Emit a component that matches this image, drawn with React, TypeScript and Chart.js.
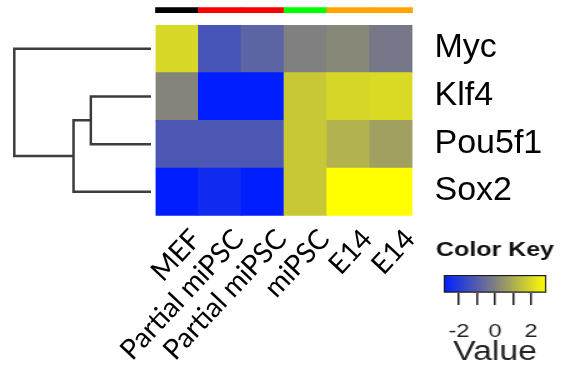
import React, { useEffect, useRef } from 'react';
import { Chart, registerables } from 'chart.js';

Chart.register(...registerables);

// ---------- data ----------
const SAMPLES = ['MEF', 'Partial miPSC', 'Partial miPSC', 'miPSC', 'E14', 'E14'];
const GENES = ['Myc', 'Klf4', 'Pou5f1', 'Sox2'];
const MYC = [1.97, -1.25, -0.8, 0.0, 0.18, -0.22];
const KLF4 = [0.09, -2.85, -2.85, 1.62, 1.93, 2.02];
const POU5F1 = [-1.16, -1.16, -1.16, 1.62, 1.12, 0.72];
const SOX2 = [-2.85, -2.49, -2.85, 1.62, 2.85, 2.85];
const GROUP_COLORS = ['#000000', '#FF0000', '#FF0000', '#00FF00', '#FFA500', '#FFA500'];
// hclust-style merges (negative = leaf, 1-based in GENES order; positive = earlier merge)
const MERGE_LEFT = [-2, 1, -1];
const MERGE_RIGHT = [-3, -4, 2];
const MERGE_HEIGHT = [1.32, 1.7, 3.0];
const KEY_MIN = -2.85;
const KEY_MAX = 2.85;
const KEY_TICKS = [-2, -1, 0, 1, 2];

// ---------- layout / style ----------
const W = 574;
const H = 371;
const HM_LEFT = 155.5;
const HM_RIGHT = 412.5;
const HM_TOP = 25;
const HM_BOTTOM = 215.7;
const DENDRO_W = 160;
const DENDRO_LEAF_PX = 151;
const DENDRO_ROOT_PX = 14.3;
const BAR_TOP_PX = 7.7;
const BAR_BOTTOM_PX = 12.7;
const KEY_W = 110;
const KEY_PAD = 13.9;
const LOW = [0, 30, 255];
const MID = [128, 128, 128];
const HIGH = [255, 255, 0];

const rgb = (c: number[]) => `rgb(${c.map((v) => Math.round(v)).join(',')})`;
const mix = (a: number[], b: number[], t: number) => a.map((v, i) => v + (b[i] - v) * t);
function zColor(z: number) {
  let t = (z - KEY_MIN) / (KEY_MAX - KEY_MIN);
  t = Math.max(0, Math.min(1, t));
  return t < 0.5 ? rgb(mix(LOW, MID, t * 2)) : rgb(mix(MID, HIGH, (t - 0.5) * 2));
}

const hidden = { display: false, offset: false, bounds: 'data', grid: { offset: false } };

export default function App() {
  const mainRef = useRef<HTMLCanvasElement>(null);
  const dendroRef = useRef<HTMLCanvasElement>(null);
  const keyRef = useRef<HTMLCanvasElement>(null);

  useEffect(() => {
    const ROWS = [MYC, KLF4, POU5F1, SOX2];

    // heatmap rows, bottom row first (stacked)
    const heat = GENES.map((g, gi) => ({
      type: 'bar' as const,
      label: g,
      stack: 'hm',
      xAxisID: 'x',
      yAxisID: 'yv',
      data: SAMPLES.map((s, si) => ({ x: s, y: 1, z: ROWS[gi][si] })),
      backgroundColor: (ctx: any) => zColor(ctx.raw ? ctx.raw.z : 0),
      borderWidth: 0,
      barPercentage: 1,
      categoryPercentage: 1,
    })).reverse();

    // group colour bar above heatmap
    const rowPx = (HM_BOTTOM - HM_TOP) / GENES.length;
    const barLo = (HM_BOTTOM - BAR_BOTTOM_PX) / rowPx;
    const barHi = (HM_BOTTOM - BAR_TOP_PX) / rowPx;
    const groupBar = {
      type: 'bar' as const,
      label: 'group',
      stack: 'hm',
      xAxisID: 'x',
      yAxisID: 'yc',
      clip: false as any,
      data: SAMPLES.map(() => [barLo, barHi]),
      backgroundColor: GROUP_COLORS,
      borderWidth: 0,
      barPercentage: 1,
      categoryPercentage: 1,
    };

    const main = new Chart(mainRef.current as HTMLCanvasElement, {
      type: 'bar',
      data: { labels: SAMPLES, datasets: [...heat, groupBar] as any },
      options: {
        responsive: false,
        animation: false,
        events: [],
        layout: { padding: { left: HM_LEFT, top: HM_TOP, right: 0, bottom: 0 } },
        plugins: { legend: { display: false }, tooltip: { enabled: false }, title: { display: false } },
        scales: {
          x: {
            type: 'category',
            stacked: true,
            offset: true,
            grid: { display: false, drawTicks: false },
            border: { display: false },
            ticks: {
              minRotation: 47,
              maxRotation: 47,
              autoSkip: false,
              padding: 7,
              labelOffset: 19,
              color: '#000',
              font: { family: 'Lato', size: 28 },
            },
            afterFit: (s: any) => {
              s.height = H - HM_BOTTOM;
              s.paddingLeft = 0;
              s.paddingRight = 0;
            },
          },
          yGenes: {
            type: 'category',
            position: 'right',
            labels: GENES,
            offset: true,
            grid: { display: false, drawTicks: false },
            border: { display: false },
            ticks: {
              autoSkip: false,
              padding: 22,
              labelOffset: -1,
              color: '#000',
              font: { family: 'Liberation Sans', size: 34 },
            },
            afterFit: (s: any) => {
              s.width = W - HM_RIGHT;
              s.paddingTop = 0;
              s.paddingBottom = 0;
            },
          },
          yv: { ...hidden, type: 'linear', stacked: true, min: 0, max: GENES.length },
          yc: { ...hidden, type: 'linear', min: 0, max: GENES.length },
        } as any,
      },
    });

    // dendrogram (row clustering)
    const nodes: { h: number; y: number }[] = [];
    const pos = (id: number) => (id < 0 ? { h: 0, y: -id - 1 } : nodes[id - 1]);
    const dendro: any[] = [];
    MERGE_HEIGHT.forEach((h, i) => {
      const a = pos(MERGE_LEFT[i]);
      const b = pos(MERGE_RIGHT[i]);
      nodes.push({ h, y: (a.y + b.y) / 2 });
      dendro.push({
        label: 'd' + i,
        showLine: true,
        clip: false,
        data: [
          { x: a.h, y: a.y },
          { x: h, y: a.y },
          { x: h, y: b.y },
          { x: b.h, y: b.y },
        ],
        borderColor: '#3c3c3c',
        borderWidth: 2.5,
        pointRadius: 0,
        tension: 0,
        borderJoinStyle: 'miter',
      });
    });
    const rootH = Math.max(...MERGE_HEIGHT);
    const dchart = new Chart(dendroRef.current as HTMLCanvasElement, {
      type: 'scatter',
      data: { datasets: dendro },
      options: {
        responsive: false,
        animation: false,
        events: [],
        layout: {
          padding: { left: DENDRO_ROOT_PX, right: DENDRO_W - DENDRO_LEAF_PX, top: HM_TOP, bottom: H - HM_BOTTOM },
        },
        plugins: { legend: { display: false }, tooltip: { enabled: false } },
        scales: {
          x: { ...hidden, type: 'linear', reverse: true, min: 0, max: rootH },
          y: { ...hidden, type: 'linear', reverse: true, min: -0.5, max: GENES.length - 0.5 },
        } as any,
      },
    });

    const sideAxis = (position: string) => ({
      type: 'category',
      position,
      display: true,
      offset: true,
      labels: [''],
      grid: { display: false, drawTicks: false },
      border: { display: false },
      ticks: { display: false },
      afterFit: (s: any) => {
        s.width = KEY_PAD;
        s.paddingTop = 0;
        s.paddingBottom = 0;
      },
    });

    const key = new Chart(keyRef.current as HTMLCanvasElement, {
      type: 'bar',
      data: {
        labels: [''],
        datasets: [
          {
            data: [[KEY_MIN, KEY_MAX]] as any,
            backgroundColor: (ctx: any) => {
              const ca = ctx.chart.chartArea;
              if (!ca) return rgb(MID);
              const g = ctx.chart.ctx.createLinearGradient(ca.left, 0, ca.right, 0);
              g.addColorStop(0, rgb(LOW));
              g.addColorStop(0.5, rgb(MID));
              g.addColorStop(1, rgb(HIGH));
              return g;
            },
            borderColor: '#1a1a1a',
            borderWidth: 1.5,
            borderSkipped: false,
            barPercentage: 1,
            categoryPercentage: 1,
          },
        ],
      },
      options: {
        indexAxis: 'y',
        responsive: false,
        animation: false,
        events: [],
        layout: { padding: 0 },
        plugins: {
          legend: { display: false },
          tooltip: { enabled: false },
          title: {
            display: true,
            text: 'Color Key',
            color: '#111',
            font: { family: 'Liberation Sans', size: 20, weight: 'bold', lineHeight: 1.2 },
            padding: { top: 8, bottom: 13 },
          },
        },
        scales: {
          x: {
            type: 'linear',
            min: KEY_MIN,
            max: KEY_MAX,
            bounds: 'data',
            offset: false,
            afterBuildTicks: (s: any) => {
              s.ticks = KEY_TICKS.map((v) => ({ value: v }));
            },
            ticks: {
              callback: (v: any) => (Number(v) % 2 === 0 ? String(v) : ''),
              padding: 15.5,
              color: '#222',
              autoSkip: false,
              maxRotation: 0,
              font: { family: 'Liberation Sans', size: 19 },
            },
            grid: { drawOnChartArea: false, drawTicks: true, tickLength: 12.3, color: '#1a1a1a', lineWidth: 1.5, offset: false },
            border: { display: false },
            title: {
              display: true,
              text: 'Value',
              color: '#222',
              font: { family: 'Liberation Sans', size: 27 },
              padding: { top: 0, bottom: 2.5 },
            },
            afterFit: (s: any) => {
              s.height = 78.3;
              s.paddingLeft = 0;
              s.paddingRight = 0;
            },
          },
          y: sideAxis('left'),
          y2: sideAxis('right'),
        } as any,
      },
    });

    return () => {
      main.destroy();
      dchart.destroy();
      key.destroy();
    };
  }, []);

  return (
    <div style={{ position: 'absolute', left: 0, top: 0, width: W, height: H, background: '#fff', overflow: 'hidden' }}>
      <canvas ref={mainRef} width={W} height={H} style={{ position: 'absolute', left: 0, top: 0 }} />
      <canvas ref={dendroRef} width={DENDRO_W} height={H} style={{ position: 'absolute', left: 0, top: 0 }} />
      <div
        style={{
          position: 'absolute',
          left: 495.3 - KEY_W / 2,
          top: 230,
          width: KEY_W,
          height: 141,
          transform: 'scaleX(1.25)',
          transformOrigin: 'center',
        }}
      >
        <canvas ref={keyRef} width={KEY_W} height={141} style={{ display: 'block' }} />
      </div>
    </div>
  );
}
